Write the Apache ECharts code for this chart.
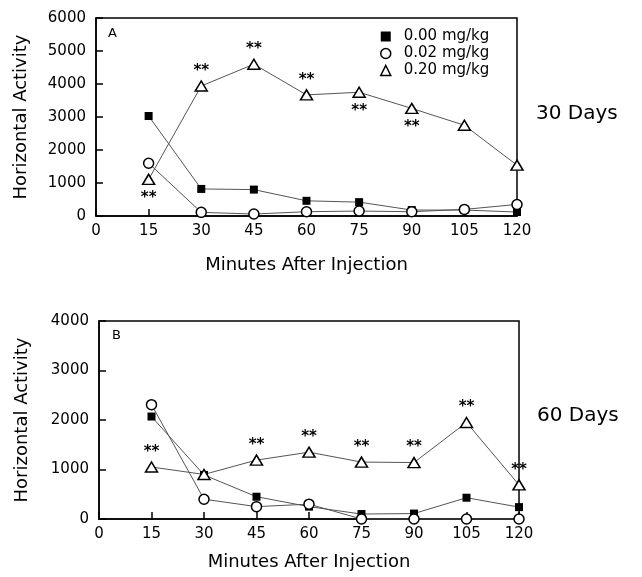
<!DOCTYPE html>
<html>
<head>
<meta charset="utf-8">
<script src="https://cdn.jsdelivr.net/npm/echarts@6/dist/echarts.min.js"></script>
<style>
  html, body { margin: 0; padding: 0; background: #fff; }
  #chart { width: 642px; height: 577px; }
</style>
</head>
<body>
<div id="chart"></div>
<script>
// minutes after injection
const minutes = [15, 30, 45, 60, 75, 90, 105, 120]

// panel A - 30 days
const a000 = [3030, 820, 800, 460, 420, 180, 180, 120]
const a002 = [1600, 110, 60, 130, 150, 130, 200, 350]
const a020 = [1110, 3940, 4600, 3670, 3750, 3260, 2750, 1540]
const sigA = ['below', 'above', 'above', 'above', 'below', 'below', '', '']

// panel B - 60 days
const b000 = [2070, 890, 450, 250, 100, 110, 430, 240]
const b002 = [2310, 400, 250, 300, 0, 0, 0, 0]
const b020 = [1050, 900, 1190, 1350, 1150, 1140, 1950, 690]
const sigB = ['above', '', 'above', 'above', 'above', 'above', 'above', 'above']

const names = ['0.00 mg/kg', '0.02 mg/kg', '0.20 mg/kg']

const FONT = 'DejaVu Sans'
const chart = echarts.init(document.getElementById('chart'))

const pts = (ys) => minutes.map((m, i) => [m, ys[i]])

const starPts = (ys, sig) =>
  minutes.map((m, i) => {
    const s = sig[i]
    if (!s) return [m, ys[i]]
    return {
      value: [m, ys[i]],
      label: {
        show: true,
        formatter: '**',
        position: s === 'above' ? 'top' : 'bottom',
        distance: s === 'above' ? 2 : 6,
        fontFamily: FONT,
        fontSize: 15,
        fontWeight: 'bold',
        color: '#000'
      }
    }
  })

const lineStyle = { color: '#555', width: 1 }
const sqStyle = { color: '#000' }
const ciStyle = { color: '#fff', borderColor: '#000', borderWidth: 1.5 }
const trStyle = { color: '#fff', borderColor: '#000', borderWidth: 1.5 }

const makeSeries = (idx, d0, d2, d20, sig) => [
  {
    name: names[0], type: 'line', xAxisIndex: idx, yAxisIndex: idx,
    data: pts(d0), symbol: 'rect', symbolSize: 8, clip: false,
    lineStyle, itemStyle: sqStyle
  },
  {
    name: names[1], type: 'line', xAxisIndex: idx, yAxisIndex: idx,
    data: pts(d2), symbol: 'circle', symbolSize: 10, clip: false,
    lineStyle, itemStyle: ciStyle
  },
  {
    name: names[2], type: 'line', xAxisIndex: idx, yAxisIndex: idx,
    data: starPts(d20, sig), symbol: 'triangle', symbolSize: [12, 10], clip: false,
    lineStyle, itemStyle: trStyle
  }
]

const plain = (v) => String(v)

const xAxis = (idx, gap) => ({
  type: 'value', gridIndex: idx, min: 0, max: 120, interval: 15,
  axisLine: { lineStyle: { color: '#000', width: 1.5 } },
  axisTick: { inside: true, length: 7, lineStyle: { color: '#000', width: 1.5 } },
  axisLabel: { fontFamily: FONT, fontSize: 15, color: '#000', margin: 8, formatter: plain },
  splitLine: { show: false },
  name: 'Minutes After Injection', nameLocation: 'middle', nameGap: gap,
  nameTextStyle: { fontFamily: FONT, fontSize: 18, color: '#000' }
})

const yAxis = (idx, max, gap) => ({
  type: 'value', gridIndex: idx, min: 0, max: max, interval: 1000,
  axisLine: { show: true, lineStyle: { color: '#000', width: 1.5 } },
  axisTick: { show: true, inside: true, length: 7, lineStyle: { color: '#000', width: 1.5 } },
  axisLabel: { fontFamily: FONT, fontSize: 15, color: '#000', margin: 10, formatter: plain },
  splitLine: { show: false },
  name: 'Horizontal Activity', nameLocation: 'middle', nameGap: gap,
  nameTextStyle: { fontFamily: FONT, fontSize: 18, color: '#000' }
})

const option = {
  animation: false,
  backgroundColor: '#fff',
  grid: [
    { left: 96, top: 18, width: 421, height: 198, show: true, borderColor: '#000', borderWidth: 1.5 },
    { left: 99, top: 321, width: 420, height: 198, show: true, borderColor: '#000', borderWidth: 1.5 }
  ],
  xAxis: [xAxis(0, 40), xAxis(1, 34)],
  yAxis: [yAxis(0, 6000, 66), yAxis(1, 4000, 68)],
  legend: {
    orient: 'vertical', left: 375, top: 23,
    itemWidth: 10, itemHeight: 10, itemGap: 0,
    textStyle: { fontFamily: FONT, fontSize: 15, color: '#000', lineHeight: 17, padding: [0, 0, 0, 8] },
    data: [
      { name: names[0], icon: 'rect', itemStyle: { color: '#000', borderWidth: 0 } },
      { name: names[1], icon: 'circle', itemStyle: { color: '#fff', borderColor: '#000', borderWidth: 1.5 } },
      { name: names[2], icon: 'triangle', itemStyle: { color: '#fff', borderColor: '#000', borderWidth: 1.5 } }
    ]
  },
  graphic: [
    { type: 'text', left: 108, top: 27, style: { text: 'A', font: '13px "DejaVu Sans"', fill: '#000' } },
    { type: 'text', left: 112, top: 329, style: { text: 'B', font: '13px "DejaVu Sans"', fill: '#000' } },
    { type: 'text', left: 536, top: 104, style: { text: '30 Days', font: '20px "DejaVu Sans"', fill: '#000' } },
    { type: 'text', left: 537, top: 406, style: { text: '60 Days', font: '20px "DejaVu Sans"', fill: '#000' } }
  ],
  series: [
    ...makeSeries(0, a000, a002, a020, sigA),
    ...makeSeries(1, b000, b002, b020, sigB)
  ]
}

chart.setOption(option)
</script>
</body>
</html>
